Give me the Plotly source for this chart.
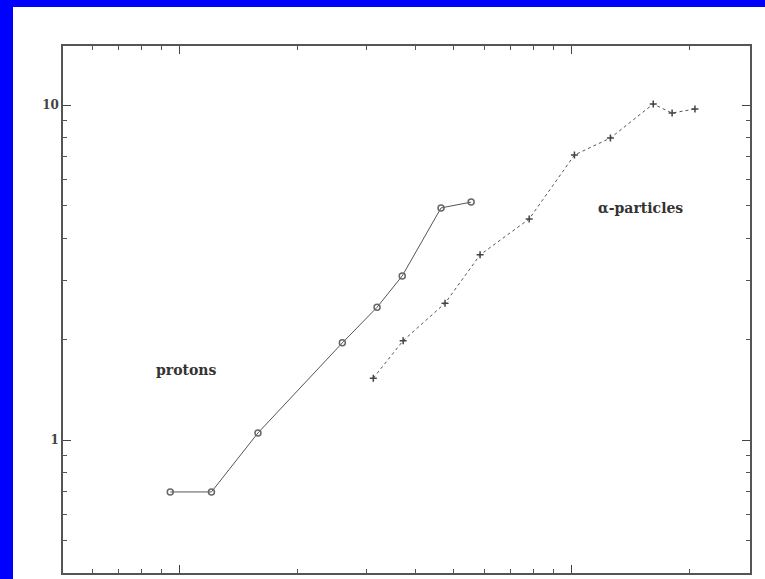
import numpy as np
import plotly.graph_objects as go

# Data (log-log axes)
proton_x = [0.95, 1.21, 1.59, 2.61, 3.20, 3.71, 4.66, 5.56]
proton_y = [0.70, 0.70, 1.05, 1.95, 2.49, 3.09, 4.93, 5.13]
alpha_x = [3.13, 3.73, 4.77, 5.86, 7.82, 10.2, 12.6, 16.2, 18.1, 20.7]
alpha_y = [1.53, 1.98, 2.56, 3.57, 4.57, 7.09, 7.97, 10.07, 9.46, 9.73]

y_major = [1, 10]
y_major_text = ["<b>1</b>", "<b>10</b>"]
y_minor = [0.5, 0.6, 0.7, 0.8, 0.9, 2, 3, 4, 5, 6, 7, 8, 9]
x_major = [1, 10]
x_minor = [0.6, 0.7, 0.8, 0.9, 2, 3, 4, 5, 6, 7, 8, 9, 20]

W, H = 765, 579
L, R, T, B = 63, 15, 46, 6
pw, ph = W - L - R, H - T - B

line_col = "#555555"
fig = go.Figure()
fig.add_trace(go.Scatter(x=proton_x, y=proton_y, mode="lines+markers",
                         line=dict(color=line_col, width=1),
                         marker=dict(symbol="circle-open", size=6, color="#666666", line=dict(width=1.5)),
                         showlegend=False))
fig.add_trace(go.Scatter(x=alpha_x, y=alpha_y, mode="lines+markers",
                         line=dict(color=line_col, width=1, dash="dot"),
                         marker=dict(symbol="cross-thin-open", size=5, color="#444444", line=dict(width=1.5, color="#444444")),
                         showlegend=False))

axis_common = dict(type="log", showgrid=False, zeroline=False, showline=True,
                   linecolor="#555555", linewidth=1.5, mirror="allticks",
                   ticks="inside", ticklen=8, tickcolor="#444444", tickwidth=1.2)

fig.update_xaxes(**axis_common, range=[np.log10(0.506), np.log10(28.6)],
                 tickvals=x_major, showticklabels=False,
                 minor=dict(tickvals=x_minor, ticks="inside", ticklen=4, tickcolor="#555555"))
fig.update_yaxes(**axis_common, range=[np.log10(0.401), np.log10(15.0)],
                 tickvals=y_major, ticktext=y_major_text,
                 tickfont=dict(family="DejaVu Serif", size=12, color="#444444"),
                 minor=dict(tickvals=y_minor, ticks="inside", ticklen=4, tickcolor="#555555"))

fig.add_annotation(x=np.log10(1.04), y=np.log10(1.62), text="<b>protons</b>", showarrow=False,
                   font=dict(family="DejaVu Serif", size=14, color="#333333"))
fig.add_annotation(x=np.log10(15.0), y=np.log10(4.93), text="<b>α-particles</b>", showarrow=False,
                   font=dict(family="DejaVu Serif", size=14, color="#333333"))

# blue border strips (left and top)
def px_x(p):
    return (p - L) / pw

def px_y(p):
    return (H - B - p) / ph

fig.add_shape(type="rect", xref="paper", yref="paper", x0=px_x(0), x1=px_x(13),
              y0=px_y(579), y1=px_y(0), fillcolor="#0000ff", line=dict(width=0), layer="above")
fig.add_shape(type="rect", xref="paper", yref="paper", x0=px_x(0), x1=px_x(765),
              y0=px_y(7), y1=px_y(0), fillcolor="#0000ff", line=dict(width=0), layer="above")

fig.update_layout(width=W, height=H, margin=dict(l=L, r=R, t=T, b=B),
                  paper_bgcolor="white", plot_bgcolor="white")

fig.write_html("out.html")
